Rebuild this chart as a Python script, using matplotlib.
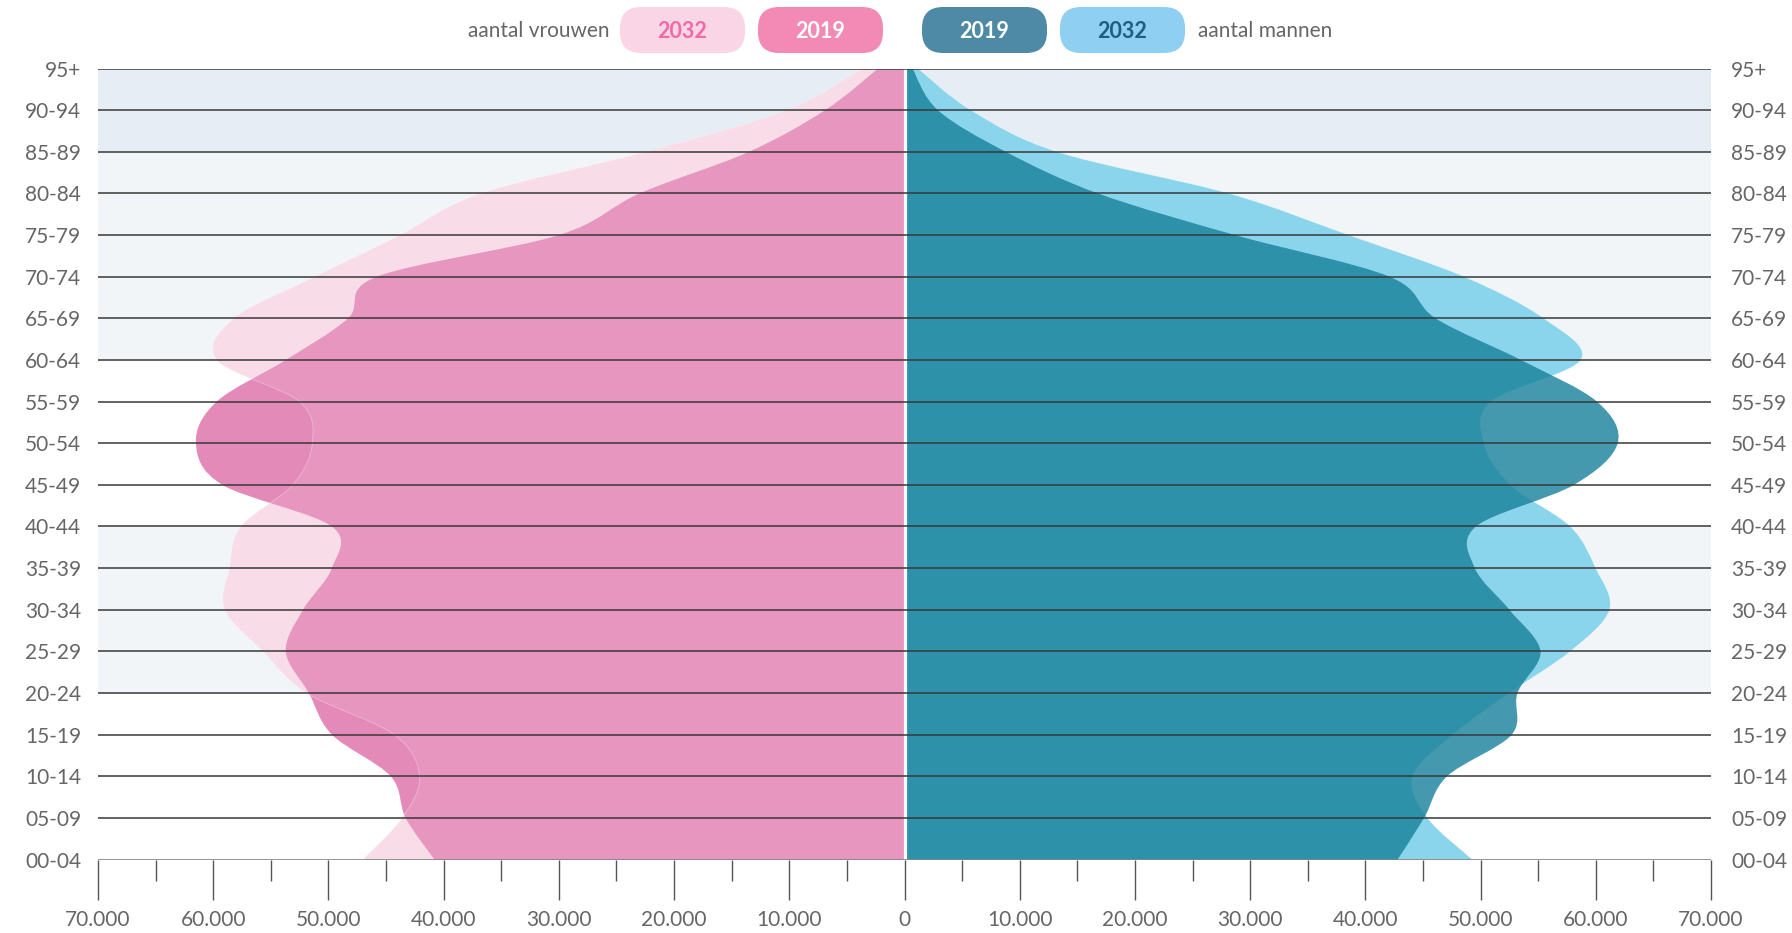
import matplotlib
matplotlib.use("Agg")
import matplotlib.pyplot as plt
from matplotlib.path import Path
from matplotlib.patches import PathPatch, FancyBboxPatch

plt.rcParams['font.family'] = ['Lato', 'DejaVu Sans']

# ---------------- data ----------------
ages = ['00-04', '05-09', '10-14', '15-19', '20-24', '25-29', '30-34', '35-39',
        '40-44', '45-49', '50-54', '55-59', '60-64', '65-69', '70-74', '75-79',
        '80-84', '85-89', '90-94', '95+']
women_2019 = [40800, 43300, 44600, 49700, 51700, 53700, 52200, 49700, 49700, 59200,
              61500, 59700, 53700, 48300, 45800, 30000, 23000, 13500, 6900, 2300]
women_2032 = [47000, 43600, 42100, 44300, 51900, 55700, 59000, 58600, 57600, 53100,
              51400, 52500, 59700, 58200, 51200, 43800, 36800, 22500, 10300, 3700]
men_2019 = [42800, 45100, 47100, 52700, 53200, 55200, 52500, 49500, 49600, 58100,
            61900, 60100, 53500, 46100, 42100, 28700, 16800, 8800, 2900, 700]
men_2032 = [49300, 45400, 44100, 47600, 52500, 57800, 61200, 60000, 57800, 52600,
            50300, 50900, 58700, 55500, 48600, 38600, 28200, 13300, 5800, 1200]
x_ticks = list(range(-70000, 70001, 10000))
legend_left = 'aantal vrouwen'
legend_right = 'aantal mannen'
legend_pills = ['2032', '2019', '2019', '2032']

W, H = 1792, 933
fig = plt.figure(figsize=(W / 100, H / 100), dpi=100)
x0, x1 = 98, 1711
ytop, ybot = 68.6, 859.5
ax = fig.add_axes([x0 / W, 1 - ybot / H, (x1 - x0) / W, (ybot - ytop) / H])
ax.set_xlim(-70000, 70000)
ax.set_ylim(0, len(ages) - 1)
for s in ax.spines.values():
    s.set_visible(False)

# background bands
ax.axhspan(17, 19, color='#e6edf4', lw=0, zorder=0)
ax.axhspan(12, 17, color='#f1f5f8', lw=0, zorder=0)
ax.axhspan(4, 8, color='#f1f5f8', lw=0, zorder=0)

yy = list(range(len(ages)))


def curve_parts(xs, ys):
    pts = list(zip(xs, ys))
    n = len(pts)
    verts = [pts[0]]
    codes = [Path.MOVETO]
    for i in range(n - 1):
        p0 = pts[i - 1] if i > 0 else pts[i]
        p1 = pts[i]
        p2 = pts[i + 1]
        p3 = pts[i + 2] if i + 2 < n else pts[i + 1]
        c1 = (p1[0] + (p2[0] - p0[0]) / 6, p1[1] + (p2[1] - p0[1]) / 6)
        c2 = (p2[0] - (p3[0] - p1[0]) / 6, p2[1] - (p3[1] - p1[1]) / 6)
        verts += [c1, c2, p2]
        codes += [Path.CURVE4] * 3
    return verts, codes


def area(xs, ys, color, alpha, z, edge=None, edge_alpha=0.3):
    v, c = curve_parts(xs, ys)
    fv = [(0, ys[0])] + v + [(0, ys[-1]), (0, ys[0])]
    fc = [Path.MOVETO] + [Path.LINETO] + c[1:] + [Path.LINETO, Path.CLOSEPOLY]
    ax.add_patch(PathPatch(Path(fv, fc), facecolor=color, alpha=alpha, lw=0, zorder=z))
    if edge:
        ax.add_patch(PathPatch(Path(v, c), fill=False, edgecolor=edge, alpha=edge_alpha,
                               lw=0.6, zorder=z))


# women (negative side)
w19 = [-v for v in women_2019]
w32 = [-v for v in women_2032]
area(w32, yy, '#f8dce8', 1.0, 1)
area(w19, yy, '#e38ab9', 1.0, 2)
area(w32, yy, '#f8dce8', 0.15, 3, edge='white', edge_alpha=0.35)
# men
area(men_2032, yy, '#8ad5ec', 1.0, 2, edge='white', edge_alpha=0.5)
area(men_2019, yy, '#16809a', 0.8, 3)

# centre white line
ax.axvline(0, color='white', lw=2.3, zorder=4)

# grid lines
for i in yy:
    ax.axhline(i, color='#777777' if i == 0 else '#383838', lw=1.1, zorder=5)

# x axis
ax.set_xticks(x_ticks)
ax.set_xticks(list(range(-65000, 70000, 10000)), minor=True)
ax.set_xticklabels([f"{abs(v):,}".replace(',', '.') for v in x_ticks])
ax.tick_params(axis='x', which='major', direction='out', length=29, width=1.0,
               color='#555555', labelcolor='#666666', labelsize=15, pad=7)
ax.tick_params(axis='x', which='minor', direction='out', length=15, width=1.0,
               color='#555555')
ax.set_yticks([])

# age labels both sides
tr = ax.get_yaxis_transform()
for i, lab in enumerate(ages):
    ax.text(-0.0105, i, lab, transform=tr, ha='right', va='center_baseline', fontsize=15,
            color='#666666')
    ax.text(1.0124, i, lab, transform=tr, ha='left', va='center_baseline', fontsize=15,
            color='#666666')

# legend overlay
axo = fig.add_axes([0, 0, 1, 1], zorder=10)
axo.set_xlim(0, W)
axo.set_ylim(H, 0)
axo.axis('off')
axo.patch.set_alpha(0)
pill_x = [620, 758, 922, 1060]
pill_bg = ['#fad5e5', '#f28ab5', '#4e89a5', '#8fcff1']
pill_fg = ['#f06ba6', 'white', 'white', '#1d5f82']
pw, ph, py = 125, 46, 7
for px, lab, bg, fg in zip(pill_x, legend_pills, pill_bg, pill_fg):
    axo.add_patch(FancyBboxPatch((px, py), pw, ph,
                                 boxstyle="round,pad=0,rounding_size=21",
                                 facecolor=bg, edgecolor='none'))
    axo.text(px + pw / 2, py + ph / 2 + 2, lab, ha='center', va='center',
             fontsize=15.5, fontweight='bold', color=fg)
axo.text(609, 31, legend_left, ha='right', va='center', fontsize=15, color='#666666')
axo.text(1198, 31, legend_right, ha='left', va='center', fontsize=15, color='#666666')

fig.savefig('out.png', dpi=100, facecolor='white')
